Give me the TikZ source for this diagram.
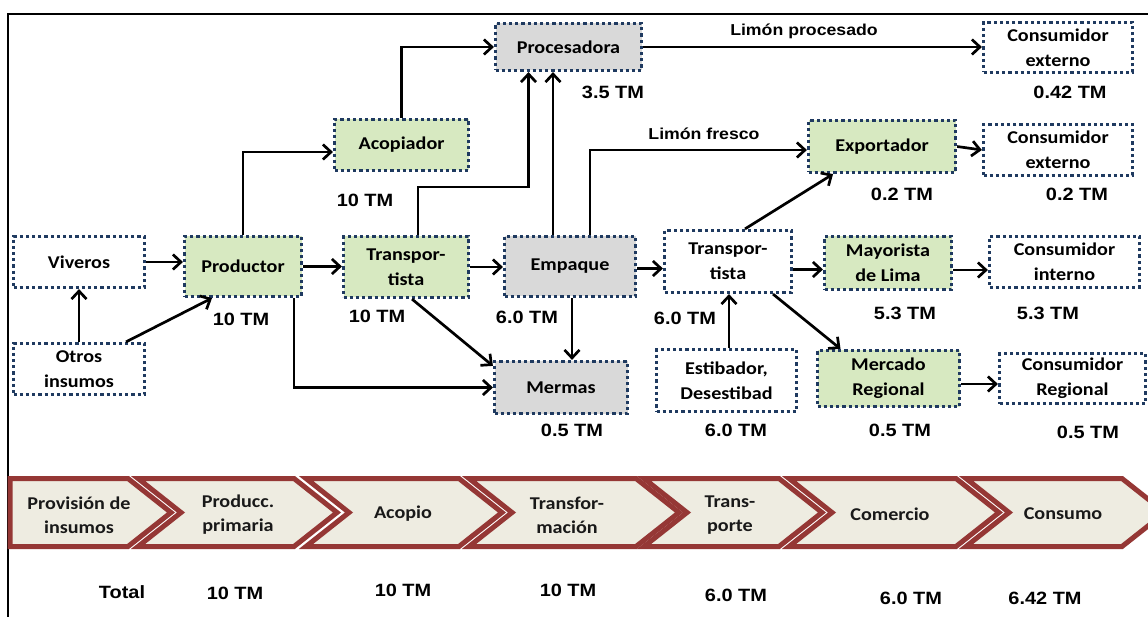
\documentclass[tikz,border=0pt]{standalone}
\usepackage{fontspec}
\setmainfont{Carlito}
\newfontfamily\boxfont[FakeStretch=1.12]{Carlito}
\newfontfamily\lblfont[FakeStretch=1.12]{Liberation Sans}
\usetikzlibrary{arrows.meta}
\definecolor{dotblue}{HTML}{1F3A60}
\definecolor{boxgreen}{HTML}{D7E9C1}
\definecolor{boxgray}{HTML}{D9D9D9}
\definecolor{chevred}{HTML}{953735}
\definecolor{chevfill}{HTML}{EEECE1}
\newcommand\chevshape[2]{\filldraw[chev] (#1,478.5) -- (#2,478.5) -- ({#2+43},512.5) -- (#2,546.5) -- (#1,546.5) -- ({#1+43},512.5) -- cycle;}
\begin{document}
\begin{tikzpicture}[x=1pt,y=-1pt,
  box/.style={draw=dotblue, line width=3.2pt, dash pattern=on 3.2pt off 3pt,
    align=center, inner sep=0pt, text=black,
    font=\boxfont\bfseries\fontsize{18}{25}\selectfont},
  gbox/.style={box, fill=boxgreen},
  ybox/.style={box, fill=boxgray},
  wbox/.style={box, fill=white},
  arr/.style={draw=black, line width=2.7pt, -{Straight Barb[length=8pt,width=15pt]}},
  tm/.style={inner sep=0pt, font=\lblfont\bfseries\fontsize{17.8}{20}\selectfont},
  lim/.style={inner sep=0pt, font=\lblfont\bfseries\fontsize{15.8}{18}\selectfont},
  chev/.style={draw=chevred, fill=chevfill, line width=5pt, line join=miter},
  chevtxt/.style={inner sep=0pt, align=center, text=black!90, font=\boxfont\bfseries\fontsize{18}{24}\selectfont}
]
\useasboundingbox (0,0) rectangle (1148,617);
\clip (0,0) rectangle (1148,617);
% frame
\draw[line width=2pt] (8,617) -- (8,14) -- (1150,14);

% boxes
\node[wbox, minimum width=131pt, minimum height=51pt] (viv) at (79,262) {Viveros};
\node[wbox, minimum width=131pt, minimum height=51pt] (otros) at (79,369) {Otros\\insumos};
\node[gbox, minimum width=117pt, minimum height=60pt] (prod) at (243,266.5) {Productor};
\node[gbox, minimum width=134pt, minimum height=51pt] (acop) at (401.5,145) {Acopiador};
\node[ybox, minimum width=146pt, minimum height=47pt] (proc) at (568.5,47) {Procesadora};
\node[wbox, minimum width=149pt, minimum height=50pt] (ce1) at (1058,47.5) {Consumidor\\externo};
\node[gbox, minimum width=147pt, minimum height=52pt] (exp) at (882,146.5) {Exportador};
\node[wbox, minimum width=149pt, minimum height=51pt] (ce2) at (1058,150) {Consumidor\\externo};
\node[gbox, minimum width=125pt, minimum height=61pt] (tr1) at (406,267) {Transpor-\\tista};
\node[ybox, minimum width=131pt, minimum height=60pt] (emp) at (570,266.5) {Empaque};
\node[ybox, minimum width=133pt, minimum height=52pt] (mer) at (561,387.5) {Mermas};
\node[wbox, minimum width=127pt, minimum height=62pt] (tr2) at (728,261.5) {Transpor-\\tista};
\node[wbox, minimum width=140pt, minimum height=62pt] (est) at (726.5,380.5) {Estibador,\\Desestibad};
\node[gbox, minimum width=127pt, minimum height=53pt] (may) at (888,263) {Mayorista\\de Lima};
\node[wbox, minimum width=150pt, minimum height=51pt] (ci) at (1064.5,262) {Consumidor\\interno};
\node[gbox, minimum width=142pt, minimum height=56pt] (mreg) at (888.5,378.5) {Mercado\\Regional};
\node[wbox, minimum width=146pt, minimum height=50pt] (creg) at (1072.5,378.5) {Consumidor\\Regional};

% connectors
\draw[arr] (viv.east) -- (viv.east -| prod.west);
\draw[arr] (otros.north) -- (viv.south);
\draw[arr] ([xshift=47pt]otros.north) -- ([xshift=-31pt]prod.south);
\draw[arr] (prod.east) -- (prod.east -| tr1.west);
\draw[arr] (prod.north) |- ([yshift=-7pt]acop.west);
\draw[arr] ([xshift=51pt]prod.south) |- (mer.west);
\draw[arr] (acop.north) |- (proc.west);
\draw[arr] ([xshift=12pt]tr1.north) -- ++(0,-48) -| ([xshift=-40pt]proc.south);
\draw[arr] ([xshift=-17pt]emp.north) -- ([xshift=-17pt]proc.south -| emp.north);
\draw[arr] ([xshift=20pt]emp.north) |- ([yshift=-3.5pt]exp.west);
\draw[arr] (proc.east) -- (proc.east -| ce1.west);
\draw[arr] (tr1.east) -- (tr1.east -| emp.west);
\draw[arr] ([xshift=6pt]tr1.south) -- ([yshift=-6pt]mer.north west);
\draw[arr] ([xshift=2pt]emp.south) -- ([xshift=2pt]emp.south |- mer.north);
\draw[arr] ([yshift=-2pt]emp.east) -- ([yshift=-2pt]emp.east -| tr2.west);
\draw[arr] ([xshift=2.5pt]est.north) -- ([xshift=2.5pt]est.north |- tr2.south);
\draw[arr] ([xshift=17pt]tr2.north) -- ([xshift=-49pt]exp.south);
\draw[arr] ([yshift=-8pt]tr2.east) -- ([yshift=-8pt]tr2.east -| may.west);
\draw[arr] ([xshift=45pt]tr2.south) -- ([xshift=-48pt]mreg.north);
\draw[arr] (exp.east) -- (ce2.west);
\draw[arr] ([yshift=-7pt]may.east) -- ([yshift=-7pt]may.east -| ci.west);
\draw[arr] ([yshift=-5.5pt]mreg.east) -- ([yshift=-5.5pt]mreg.east -| creg.west);

% flow labels
\node[lim] (lproc) at (804,31) {Limón procesado};
\node[lim] (lfres) at (704,134) {Limón fresco};

% quantities
\node[tm] (qproc) at (613,92) {3.5 TM};
\node[tm] (qce1) at (1070,92) {0.42 TM};
\node[tm] (qacop) at (365,200) {10 TM};
\node[tm] (qexp) at (902,194) {0.2 TM};
\node[tm] (qce2) at (1077,194) {0.2 TM};
\node[tm] (qprod) at (241,319) {10 TM};
\node[tm] (qtr1) at (377,316) {10 TM};
\node[tm] (qemp) at (527,317) {6.0 TM};
\node[tm] (qtr2) at (685,318) {6.0 TM};
\node[tm] (qmer) at (572,430) {0.5 TM};
\node[tm] (qest) at (736,430) {6.0 TM};
\node[tm] (qmay) at (905,313) {5.3 TM};
\node[tm] (qci) at (1048,313) {5.3 TM};
\node[tm] (qmreg) at (900,430) {0.5 TM};
\node[tm] (qcreg) at (1088,432) {0.5 TM};

% chevrons
\filldraw[chev] (10,478.5) -- (128,478.5) -- (171,512.5) -- (128,546.5) -- (10,546.5) -- cycle;
\chevshape{138}{294}
\chevshape{306}{459}
\chevshape{469}{636}
\chevshape{644}{779}
\chevshape{789}{956}
\chevshape{966}{1122}

\node[chevtxt] (c1) at (79,515) {Provisión de\\insumos};
\node[chevtxt] (c2) at (238,515) {Producc.\\primaria};
\node[chevtxt] (c3) at (403,514) {Acopio};
\node[chevtxt] (c4) at (567,515) {Transfor-\\mación};
\node[chevtxt] (c5) at (730,515) {Trans-\\porte};
\node[chevtxt] (c6) at (890,514) {Comercio};
\node[chevtxt] (c7) at (1063,514) {Consumo};

% totals
\node[tm] (ttot) at (122,592) {Total};
\node[tm] (t1) at (235,593) {10 TM};
\node[tm] (t2) at (403,590) {10 TM};
\node[tm] (t3) at (568,590) {10 TM};
\node[tm] (t4) at (736,595) {6.0 TM};
\node[tm] (t5) at (911,598) {6.0 TM};
\node[tm] (t6) at (1045,598) {6.42 TM};
\end{tikzpicture}
\end{document}
